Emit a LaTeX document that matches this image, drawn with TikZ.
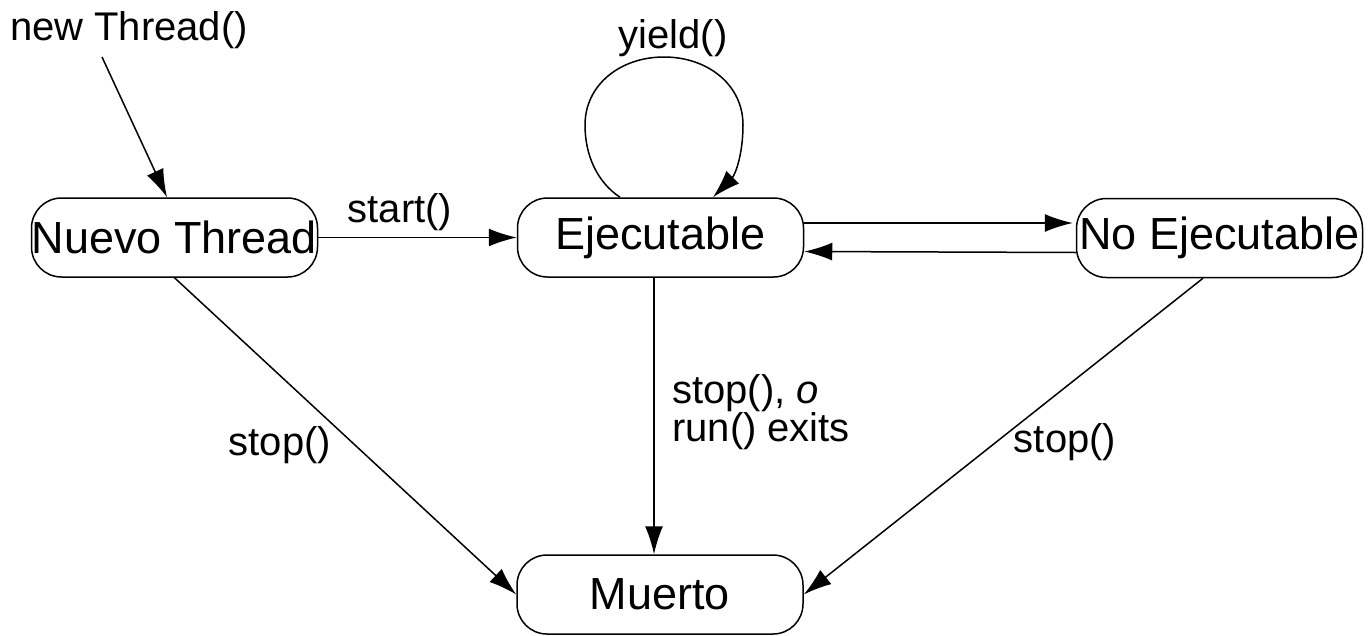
\documentclass[tikz,border=0pt]{standalone}
\usepackage{fontspec}
\setmainfont{Liberation Sans}
\usetikzlibrary{arrows.meta}
\begin{document}
\begin{tikzpicture}[x=1pt,y=-1pt,
  state/.style={draw,line width=1.5pt,rounded corners=30pt,minimum width=286pt,minimum height=79pt,inner sep=0pt,font=\fontsize{45}{50}\selectfont},
  lbl/.style={font=\fontsize{40}{38}\selectfont,inner sep=0pt},
  arr/.style={line width=1.5pt,-{Latex[length=28pt,width=18pt]}}]
\useasboundingbox (0,0) rectangle (1369,635);
\node[state] (N) at (174.5,237.5) {Nuevo Thread};
\node[state] (E) at (660.5,237.5) {Ejecutable};
\node[state] (X) at (1219.5,238) {No Ejecutable};
\node[state] (M) at (660,594.5) {Muerto};
\coordinate (nt) at (102,57);
\node[lbl] (lnew) at (129,30) {new Thread()};
\draw[arr] (nt) -- ([xshift=-7.5pt]N.north);
\draw[arr] (N.east) -- (E.west);
\node[lbl] (lstart) at (400,212) {start()};
\coordinate (ls) at ([xshift=-40.5pt]E.north);
\coordinate (le) at ([xshift=52.5pt]E.north);
\draw[arr] (ls) .. controls (597,182) and (585,155) .. (585,125)
  .. controls (585,85) and (620,57) .. (664,57)
  .. controls (708,57) and (743,85) .. (743,125)
  .. controls (743,155) and (735,175) .. (le);
\node[lbl] (lyield) at (673,38) {yield()};
\draw[arr] ([yshift=14.5pt]E.east) -- ([yshift=15pt,xshift=-3pt]X.west);
\draw[arr] ([yshift=-14.5pt]X.west) -- ([yshift=-14pt]E.east);
\draw[arr] ([xshift=-6.5pt]E.south) -- ([xshift=-6pt]M.north);
\node[lbl,align=left,anchor=west] (lrun) at (672,412) {stop(), \textit{o}\\run() exits};
\draw[arr] (N.south) -- (M.west);
\node[lbl] (lstop1) at (280,445) {stop()};
\draw[arr] ([xshift=-16.5pt]X.south) -- (M.east);
\node[lbl] (lstop2) at (1065,442) {stop()};
\end{tikzpicture}
\end{document}
